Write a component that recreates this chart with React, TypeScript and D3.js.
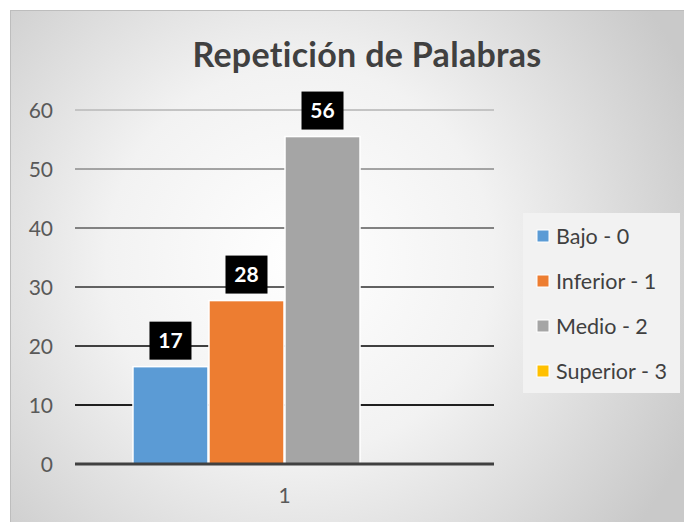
import React from "react";
import * as d3 from "d3";

const title = "Repetición de Palabras";
const categories = ["1"];
const seriesNames = ["Bajo - 0", "Inferior - 1", "Medio - 2", "Superior - 3"];
const seriesValues = [16.5, 27.7, 55.5, 0];
const seriesColors = ["#5b9bd5", "#ed7d31", "#a5a5a5", "#ffc000"];
const yTicks = [0, 10, 20, 30, 40, 50, 60];

const W = 684;
const H = 522;
const FONT = "Lato, 'Open Sans', sans-serif";

export default function App() {
  const left = 75, right = 494, top = 110, bottom = 464;
  const y = d3.scaleLinear().domain([0, 60]).range([bottom, top]);
  const x0 = d3.scaleBand().domain(categories).range([left, right]).paddingInner(0).paddingOuter(0.189);
  const x1 = d3.scaleBand().domain(seriesNames).range([0, x0.bandwidth()]).padding(0);
  const fmt = d3.format(".0f");

  return (
    <svg width={W} height={H} style={{ position: "absolute", left: 0, top: 0 }}>
      <defs>
        <radialGradient id="bg" cx="300" cy="260" r="430" gradientUnits="userSpaceOnUse">
          <stop offset="0" stopColor="#ffffff" />
          <stop offset="0.45" stopColor="#f2f2f2" />
          <stop offset="1" stopColor="#c9c9c9" />
        </radialGradient>
        <linearGradient id="grid" x1="0" y1={top} x2="0" y2={y(10)} gradientUnits="userSpaceOnUse">
          <stop offset="0" stopColor="#c4c4c4" />
          <stop offset="1" stopColor="#1f1f1f" />
        </linearGradient>
      </defs>
      <rect x={0} y={0} width={W} height={H} fill="#ffffff" />
      <rect x={10} y={10} width={W - 10} height={H - 10} fill="url(#bg)" />
      <line x1={10} x2={W} y1={10.5} y2={10.5} stroke="#bdbdbd" strokeWidth={1} />
      <line x1={10.5} x2={10.5} y1={10} y2={H} stroke="#bdbdbd" strokeWidth={1} />
      <text x={367} y={67} textAnchor="middle" fontFamily={FONT} fontWeight="bold" fontSize={34} letterSpacing={0.3} fill="#404040">{title}</text>
      {yTicks.filter((t) => t !== 0).map((t) => (
        <line key={t} x1={left} x2={right} y1={y(t)} y2={y(t)} stroke="url(#grid)" strokeWidth={2} />
      ))}
      {yTicks.map((t) => (
        <text key={t} x={53} y={y(t) + 7.5} textAnchor="end" fontFamily={FONT} fontSize={21} fill="#595959">{t}</text>
      ))}
      {categories.map((c) => (
        <g key={c} transform={`translate(${x0(c)},0)`}>
          {seriesNames.map((s, i) => (
            <rect key={s} x={x1(s)! + 0.5} y={y(seriesValues[i])} width={x1.bandwidth() - 1} height={bottom - y(seriesValues[i])}
              fill={seriesColors[i]} stroke="#ffffff" strokeWidth={seriesValues[i] > 0 ? 1.5 : 0} />
          ))}
          {seriesNames.map((s, i) => seriesValues[i] > 0 ? (
            <g key={s} transform={`translate(${x1(s)! + x1.bandwidth() / 2},${y(seriesValues[i]) - 26})`}>
              <rect x={-21} y={-19} width={42} height={38} fill="#000000" />
              <text x={0} y={7.5} textAnchor="middle" fontFamily={FONT} fontWeight="bold" fontSize={21} fill="#ffffff">{fmt(seriesValues[i])}</text>
            </g>
          ) : null)}
          <text x={x0.bandwidth() / 2} y={503} textAnchor="middle" fontFamily={FONT} fontSize={21} fill="#595959">{c}</text>
        </g>
      ))}
      <line x1={left} x2={right} y1={bottom} y2={bottom} stroke="#404040" strokeWidth={3} />
      <rect x={523} y={213} width={157} height={180} fill="#f2f2f2" />
      {seriesNames.map((s, i) => (
        <g key={s} transform={`translate(537,${236 + i * 45})`}>
          <rect x={0} y={-6} width={12} height={12} fill={seriesColors[i]} stroke="#ffffff" strokeWidth={1} />
          <text x={19} y={7.5} fontFamily={FONT} fontSize={21.5} fill="#404040">{s}</text>
        </g>
      ))}
    </svg>
  );
}
